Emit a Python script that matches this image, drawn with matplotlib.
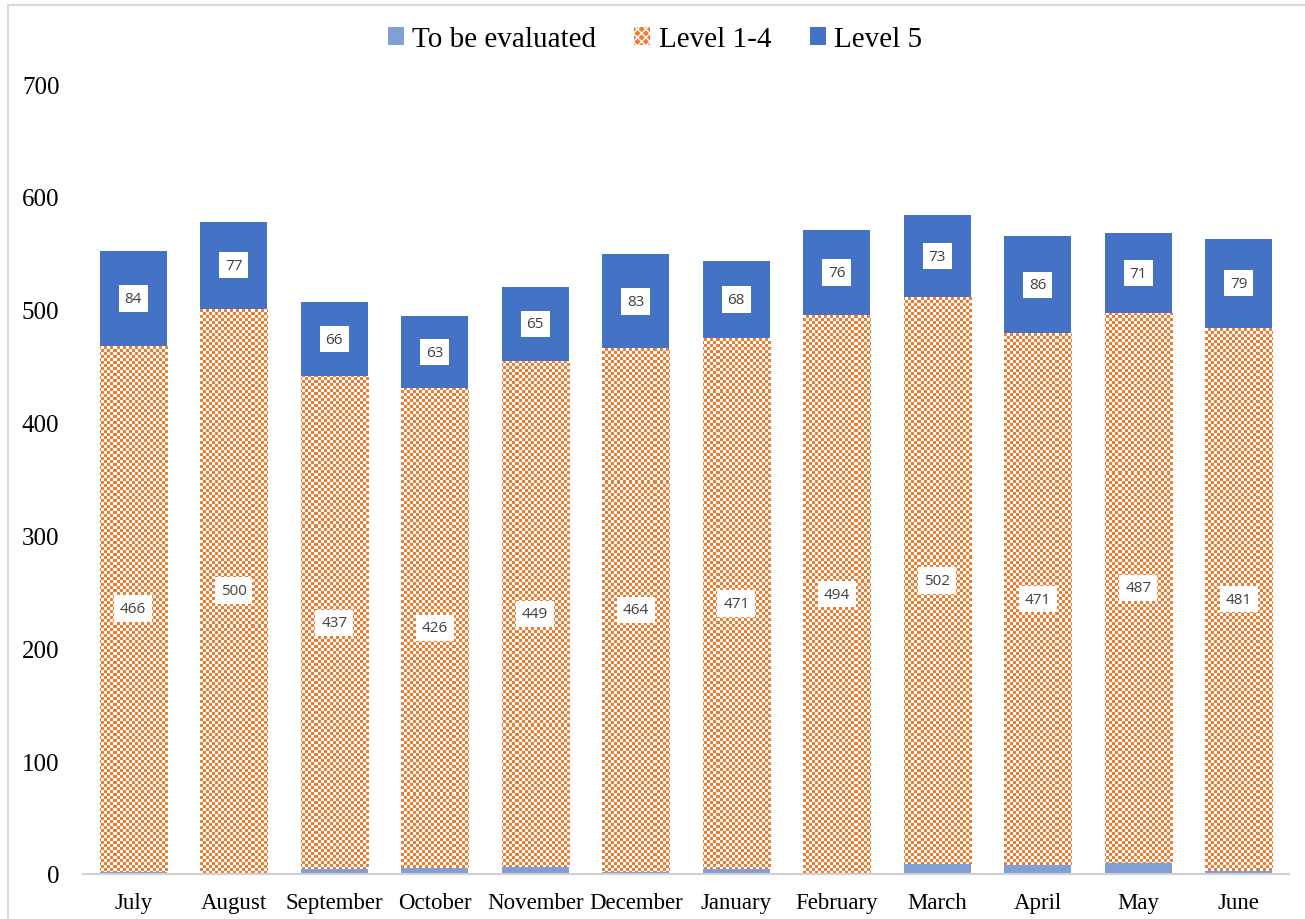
import numpy as np
import matplotlib
matplotlib.use('Agg')
import matplotlib.pyplot as plt
from matplotlib.patches import Patch
from matplotlib.lines import Line2D

months = ['July', 'August', 'September', 'October', 'November', 'December',
          'January', 'February', 'March', 'April', 'May', 'June']
to_be_evaluated = [2, 1, 4, 5, 6, 2, 4, 1, 9, 8, 10, 3]
level_1_4 = [466, 500, 437, 426, 449, 464, 471, 494, 502, 471, 487, 481]
level_5 = [84, 77, 66, 63, 65, 83, 68, 76, 73, 86, 71, 79]
yticks = [0, 100, 200, 300, 400, 500, 600, 700]

c_eval = '#7FA0D6'
c_orange = '#ED7D31'
c_l5 = '#4472C4'

plt.rcParams['font.family'] = 'Liberation Serif'

fig = plt.figure(figsize=(13.05, 9.2), dpi=100)
W, H = 1305, 920
ax = fig.add_axes([83 / W, 45 / H, 1206 / W, 790 / H])

x = np.arange(len(months))
bw = 0.667
ev = np.array(to_be_evaluated)
l14 = np.array(level_1_4)
l5 = np.array(level_5)

b1 = ax.bar(x, ev, width=bw, color=c_eval, linewidth=0, zorder=2)
b2 = ax.bar(x, l14, bottom=ev, width=bw, color='white', linewidth=0, zorder=1)
b3 = ax.bar(x, l5, bottom=ev + l14, width=bw, color=c_l5, linewidth=0, zorder=2)

xlim = (-0.5, 11.5)
ylim = (0, 700)

# checkerboard fill for level 1-4, 3px cells
ny, nx = 790 // 3, 1206 // 3
chk = np.indices((ny, nx)).sum(axis=0) % 2
rgb_o = np.array(matplotlib.colors.to_rgb(c_orange))
img = np.where(chk[..., None] == 0, rgb_o, np.ones(3))
for bar in b2:
    im = ax.imshow(img, extent=(xlim[0], xlim[1], ylim[0], ylim[1]),
                   aspect='auto', interpolation='nearest', zorder=1.5)
    im.set_clip_path(bar)

ax.set_xlim(*xlim)
ax.set_ylim(*ylim)
ax.set_xticks(x)
ax.set_xticklabels(months, fontsize=16.5)
ax.set_yticks(yticks)
ax.set_yticklabels([str(v) for v in yticks], fontsize=18)
ax.tick_params(axis='both', length=0)
ax.tick_params(axis='y', pad=17)
ax.tick_params(axis='x', pad=13)
for s in ['top', 'right', 'left']:
    ax.spines[s].set_visible(False)
ax.spines['bottom'].set_color('#D0D0D0')
ax.spines['bottom'].set_linewidth(1.5)

box = dict(boxstyle='square,pad=0.38', facecolor='white', edgecolor='none')
for cont, vals in [(b2, level_1_4), (b3, level_5)]:
    ax.bar_label(cont, labels=[str(v) for v in vals], label_type='center',
                 fontsize=11, color='#404040', family='Open Sans',
                 bbox=box, zorder=5)

handles = [Patch(facecolor=c_eval, edgecolor='none'),
           Patch(facecolor=c_orange, edgecolor='white', hatch='xxxx', linewidth=0),
           Patch(facecolor=c_l5, edgecolor='none')]
fig.legend(handles, ['To be evaluated', 'Level 1-4', 'Level 5'],
           loc='center', bbox_to_anchor=(0.502, 0.956), ncol=3, frameon=False,
           fontsize=21, handlelength=0.55, handleheight=0.55,
           handletextpad=0.3, columnspacing=1.3)

# chart frame
fig.add_artist(Line2D([8 / W, 8 / W], [0, 1 - 6 / H], color='#D9D9D9', lw=1.5))
fig.add_artist(Line2D([8 / W, 1], [1 - 6 / H, 1 - 6 / H], color='#D9D9D9', lw=1.5))

fig.savefig('out.png', dpi=100)
